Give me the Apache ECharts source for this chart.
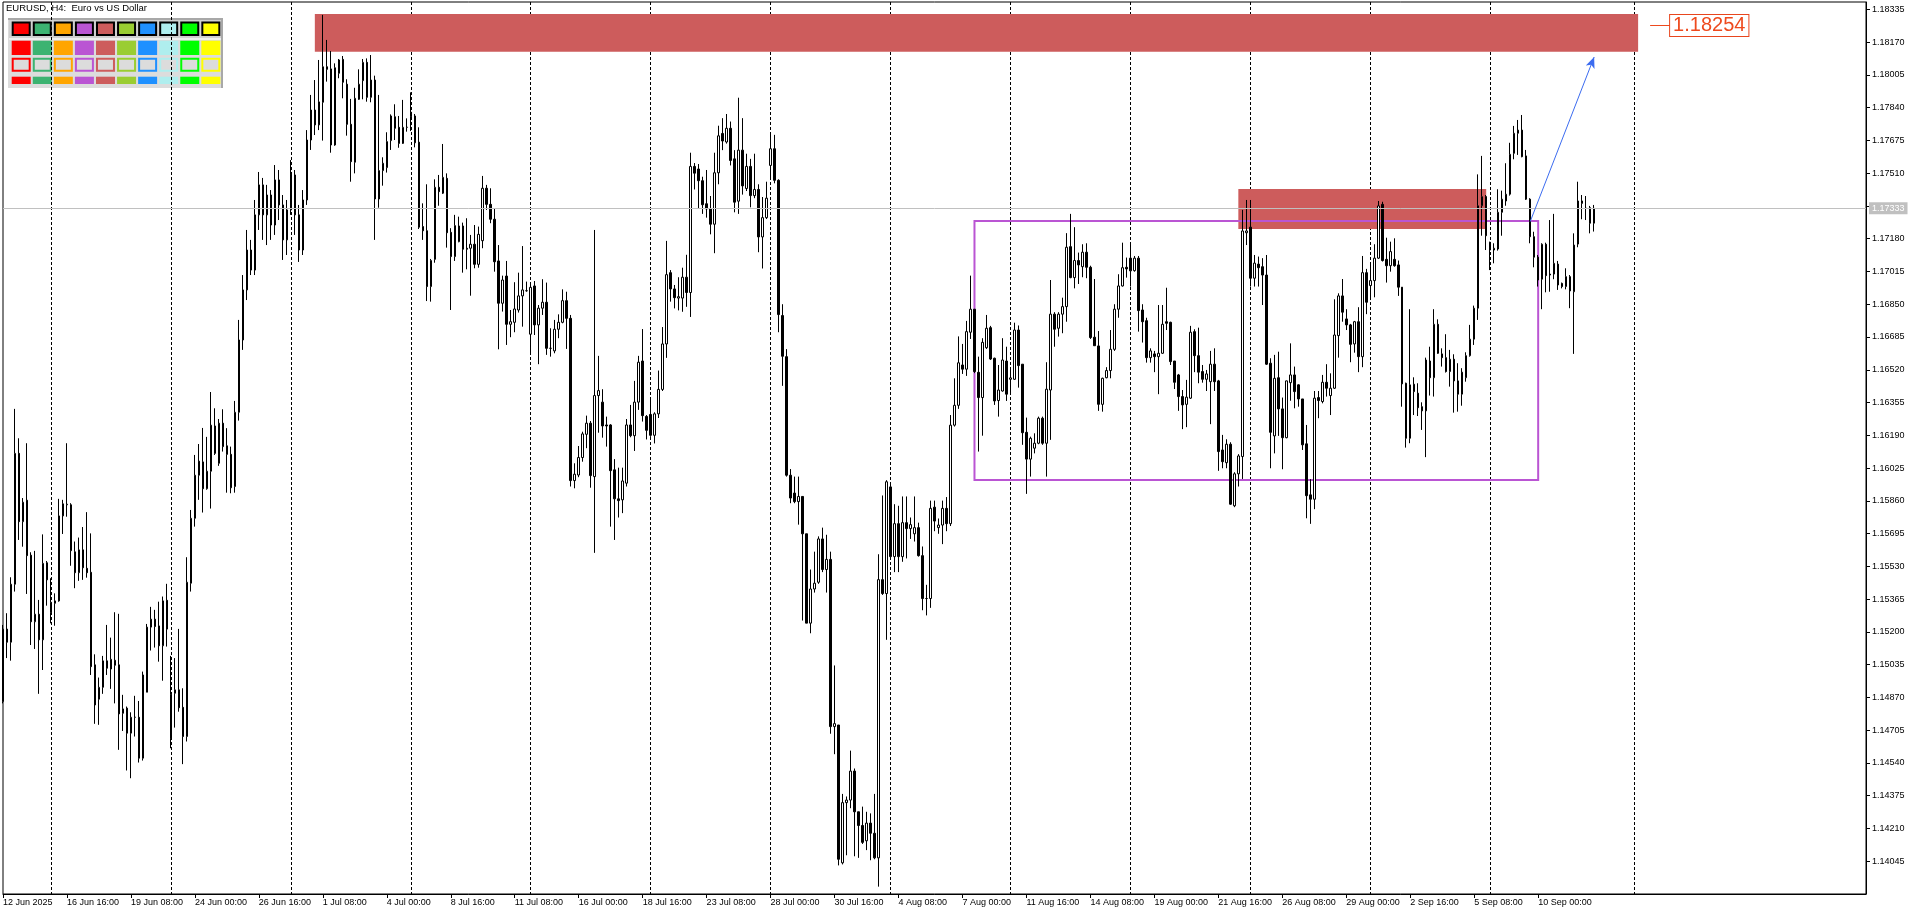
<!DOCTYPE html>
<html><head><meta charset="utf-8">
<script src="https://cdn.jsdelivr.net/npm/echarts@6/dist/echarts.min.js"></script>
<style>html,body{margin:0;padding:0;background:#fff;overflow:hidden}#c{width:1920px;height:915px}</style>
</head><body><div id="c"></div>
<script>
// ---------------- DATA (EURUSD H4) ----------------
const opens = [
1.14849,1.15214,1.15148,1.15440,1.16099,1.15755,1.15863,1.15586,1.15251,1.15289,
1.15160,1.15548,1.15299,1.15344,1.15356,1.15784,1.15840,1.15840,1.15603,1.15498,
1.15613,1.15520,1.15500,1.15034,1.14861,1.14921,1.15054,1.15013,1.15057,1.15034,
1.14790,1.14816,1.14690,1.14770,1.14770,1.14564,1.14896,1.15224,1.15264,1.15230,
1.15130,1.15359,1.14665,1.14891,1.14908,1.14820,1.14673,1.15445,1.15772,1.15989,
1.16056,1.15921,1.16009,1.16237,1.16049,1.16251,1.16137,1.16094,1.15932,1.16306,
1.16670,1.16922,1.17123,1.17022,1.17300,1.17451,1.17300,1.17400,1.17249,1.17476,
1.17350,1.17174,1.17325,1.17501,1.17300,1.17123,1.17375,1.17677,1.17828,1.17753,
1.17867,1.18046,1.18035,1.17652,1.18013,1.18083,1.17958,1.17756,1.17565,1.17882,
1.17976,1.18068,1.17892,1.17979,1.17380,1.17523,1.17538,1.17674,1.17794,1.17741,
1.17660,1.17741,1.17817,1.17798,1.17666,1.17241,1.17220,1.16939,1.17076,1.17439,
1.17409,1.17484,1.17212,1.17090,1.17165,1.17244,1.17132,1.17132,1.17152,1.17051,
1.17170,1.17434,1.17353,1.17278,1.17068,1.16855,1.16992,1.16749,1.16759,1.16821,
1.16892,1.16918,1.16699,1.16942,1.16746,1.16830,1.16860,1.16628,1.16615,1.16724,
1.16759,1.16868,1.16779,1.15962,1.15990,1.16078,1.16195,1.16251,1.15982,1.16390,
1.16357,1.16242,1.16242,1.16016,1.15870,1.15865,1.15949,1.16242,1.16188,1.16357,
1.16564,1.16285,1.16295,1.16190,1.16298,1.16421,1.16650,1.17009,1.16927,1.16881,
1.16881,1.16986,1.16909,1.17544,1.17531,1.17472,1.17356,1.17330,1.17253,1.17512,
1.17710,1.17667,1.17736,1.17582,1.17369,1.17626,1.17433,1.17544,1.17397,1.17428,
1.17189,1.17286,1.17549,1.17633,1.17474,1.16793,1.16586,1.15989,1.15899,1.15856,
1.15882,1.15694,1.15244,1.15416,1.15450,1.15668,1.15514,1.15565,1.14723,1.14731,
1.14037,1.14340,1.14353,1.14499,1.14294,1.14225,1.14148,1.14237,1.14186,1.14062,
1.15463,1.15393,1.15930,1.15579,1.15745,1.15579,1.15750,1.15720,1.15694,1.15725,
1.15584,1.15368,1.15368,1.15828,1.15725,1.15738,1.15822,1.15745,1.16241,1.16341,
1.16544,1.16523,1.16709,1.16825,1.16507,1.16380,1.16631,1.16732,1.16578,1.16365,
1.16413,1.16564,1.16472,1.16472,1.16720,1.16548,1.16205,1.16070,1.16125,1.16150,
1.16276,1.16150,1.16418,1.16800,1.16729,1.16800,1.16838,1.17140,1.16984,1.17070,
1.17039,1.17112,1.17036,1.16684,1.16640,1.16346,1.16480,1.16516,1.16623,1.16825,
1.16942,1.17036,1.17082,1.17019,1.17082,1.16821,1.16767,1.16581,1.16600,1.16586,
1.16603,1.16762,1.16759,1.16564,1.16494,1.16385,1.16346,1.16377,1.16712,1.16591,
1.16511,1.16472,1.16460,1.16548,1.16464,1.16116,1.16052,1.16145,1.15835,1.15996,
1.16083,1.17210,1.17238,1.16981,1.17052,1.17039,1.16997,1.16553,1.16187,1.16480,
1.16323,1.16178,1.16455,1.16494,1.16444,1.16373,1.16147,1.15890,1.15868,1.16380,
1.16360,1.16457,1.16390,1.16427,1.16692,1.16892,1.16776,1.16746,1.16650,1.16762,
1.16586,1.17009,1.16944,1.16969,1.17082,1.17353,1.17076,1.17044,1.17076,1.17048,
1.16936,1.16452,1.16175,1.16447,1.16402,1.16334,1.16313,1.16564,1.16480,1.16749,
1.16600,1.16581,1.16511,1.16573,1.16464,1.16397,1.16480,1.16591,1.16674,1.16830,
1.17346,1.17392,1.17162,1.17123,1.17128,1.17313,1.17370,1.17404,1.17610,1.17711,
1.17727,1.17597,1.17379,1.17190,1.17087,1.16976,1.17152,1.17002,1.17002,1.17052,
1.16955,1.16939,1.16989,1.16913,1.17153,1.17370,1.17333,1.17336,1.17258
];
const highs = [
1.15235,1.15294,1.15475,1.16323,1.16175,1.15874,1.16150,1.15601,1.15608,1.15361,
1.15691,1.15557,1.15470,1.15394,1.15870,1.15865,1.16150,1.15848,1.15655,1.15675,
1.15728,1.15803,1.15696,1.15087,1.14970,1.15079,1.15235,1.15171,1.15299,1.15291,
1.14883,1.14824,1.14795,1.14878,1.14852,1.15000,1.15240,1.15326,1.15311,1.15352,
1.15378,1.15442,1.15079,1.15068,1.15215,1.14916,1.15576,1.15814,1.16091,1.16146,
1.16227,1.16182,1.16408,1.16326,1.16272,1.16321,1.16226,1.16133,1.16363,1.16771,
1.16997,1.17224,1.17174,1.17375,1.17516,1.17486,1.17451,1.17425,1.17551,1.17526,
1.17400,1.17375,1.17576,1.17526,1.17350,1.17425,1.17727,1.17904,1.17979,1.18080,
1.18307,1.18181,1.18125,1.18063,1.18085,1.18100,1.17983,1.17884,1.17940,1.18033,
1.18085,1.18088,1.18105,1.18001,1.17904,1.17590,1.17716,1.17806,1.17857,1.17798,
1.17879,1.17786,1.17917,1.17808,1.17741,1.17358,1.17454,1.17078,1.17479,1.17501,
1.17657,1.17509,1.17233,1.17300,1.17291,1.17261,1.17283,1.17199,1.17249,1.17241,
1.17496,1.17451,1.17434,1.17333,1.17148,1.16994,1.17068,1.16821,1.16961,1.17009,
1.17143,1.16964,1.16956,1.16967,1.16846,1.16976,1.16959,1.16729,1.16771,1.16799,
1.16925,1.16913,1.16796,1.16049,1.16136,1.16208,1.16289,1.16262,1.17224,1.16590,
1.16422,1.16284,1.16246,1.16070,1.16027,1.16027,1.16272,1.16343,1.16464,1.16590,
1.16725,1.16292,1.16375,1.16306,1.16516,1.16735,1.17169,1.17022,1.16947,1.16986,
1.17034,1.17099,1.17613,1.17561,1.17556,1.17492,1.17526,1.17395,1.17613,1.17749,
1.17787,1.17808,1.17770,1.17626,1.17890,1.17787,1.17608,1.17582,1.17608,1.17454,
1.17390,1.17467,1.17703,1.17703,1.17479,1.16850,1.16624,1.16020,1.15982,1.15982,
1.15882,1.15694,1.15514,1.15604,1.15681,1.15725,1.15689,1.15604,1.15031,1.14731,
1.14384,1.14371,1.14602,1.14512,1.14294,1.14320,1.14294,1.14286,1.14384,1.15591,
1.15887,1.15964,1.15951,1.15843,1.15835,1.15882,1.15882,1.15776,1.15882,1.15750,
1.15630,1.15437,1.15861,1.15861,1.15771,1.15861,1.15879,1.16292,1.16477,1.16688,
1.16650,1.16766,1.16994,1.16826,1.16586,1.16679,1.16796,1.16741,1.16581,1.16544,
1.16679,1.16636,1.16528,1.16757,1.16743,1.16548,1.16279,1.16183,1.16200,1.16284,
1.16284,1.16558,1.16972,1.16810,1.16810,1.16883,1.17208,1.17305,1.17238,1.17110,
1.17152,1.17157,1.17044,1.16977,1.16715,1.16480,1.16533,1.16720,1.16850,1.17001,
1.17160,1.17085,1.17160,1.17093,1.17093,1.16850,1.16782,1.16628,1.16615,1.16846,
1.16846,1.16933,1.16762,1.16564,1.16499,1.16418,1.16469,1.16741,1.16724,1.16732,
1.16544,1.16519,1.16615,1.16628,1.16469,1.16192,1.16170,1.16155,1.16004,1.16095,
1.17325,1.17375,1.17375,1.17098,1.17090,1.17082,1.17098,1.16578,1.16595,1.16611,
1.16380,1.16465,1.16653,1.16536,1.16447,1.16373,1.16242,1.15969,1.16413,1.16413,
1.16494,1.16548,1.16502,1.16875,1.16905,1.16977,1.16825,1.16751,1.16766,1.16835,
1.17093,1.17028,1.17056,1.17152,1.17370,1.17366,1.17185,1.17165,1.17182,1.17070,
1.16936,1.16455,1.16825,1.16482,1.16452,1.16356,1.16581,1.16636,1.16825,1.16774,
1.16628,1.16699,1.16620,1.16598,1.16553,1.16528,1.16608,1.16746,1.16843,1.17504,
1.17597,1.17400,1.17165,1.17157,1.17429,1.17422,1.17560,1.17663,1.17748,1.17778,
1.17803,1.17627,1.17384,1.17215,1.17098,1.17157,1.17160,1.17274,1.17305,1.17068,
1.16959,1.17031,1.16997,1.17207,1.17467,1.17400,1.17395,1.17345,1.17350
];
const lows = [
1.14840,1.15068,1.15055,1.15403,1.15663,1.15629,1.15391,1.15134,1.15114,1.14888,
1.15008,1.15332,1.15243,1.15231,1.15352,1.15693,1.15780,1.15533,1.15420,1.15457,
1.15462,1.15473,1.14983,1.14737,1.14732,1.14888,1.14983,1.14913,1.14840,1.14606,
1.14701,1.14502,1.14463,1.14673,1.14542,1.14552,1.14896,1.15106,1.15121,1.15050,
1.14954,1.15126,1.14614,1.14718,1.14798,1.14534,1.14648,1.15403,1.15730,1.15865,
1.15801,1.15916,1.15821,1.16091,1.16036,1.16108,1.15901,1.15898,1.15901,1.16264,
1.16620,1.16871,1.16997,1.16997,1.17224,1.17174,1.17148,1.17174,1.17199,1.17274,
1.17073,1.17098,1.17300,1.17199,1.17063,1.17098,1.17350,1.17627,1.17702,1.17727,
1.17674,1.17971,1.17613,1.17648,1.17988,1.17887,1.17699,1.17467,1.17509,1.17879,
1.17882,1.17870,1.17867,1.17174,1.17336,1.17447,1.17513,1.17627,1.17677,1.17638,
1.17657,1.17719,1.17722,1.17640,1.17229,1.17174,1.16866,1.16863,1.17059,1.17346,
1.17405,1.17135,1.16821,1.17068,1.17162,1.17009,1.17026,1.16893,1.17031,1.17034,
1.17132,1.17325,1.17258,1.17014,1.16623,1.16813,1.16645,1.16684,1.16709,1.16808,
1.16737,1.16913,1.16603,1.16695,1.16548,1.16796,1.16595,1.16586,1.16603,1.16679,
1.16754,1.16625,1.15932,1.15923,1.15979,1.16057,1.16125,1.15926,1.15598,1.16203,
1.16178,1.16133,1.15730,1.15663,1.15776,1.15798,1.15932,1.16180,1.16111,1.16318,
1.16259,1.16169,1.16182,1.16149,1.16277,1.16413,1.16580,1.16863,1.16829,1.16819,
1.16812,1.16837,1.16786,1.17428,1.17333,1.17305,1.17286,1.17202,1.17107,1.17454,
1.17626,1.17659,1.17549,1.17313,1.17305,1.17402,1.17420,1.17338,1.17384,1.17112,
1.17030,1.17279,1.17479,1.17459,1.16709,1.16439,1.15982,1.15848,1.15848,1.15740,
1.15257,1.15244,1.15193,1.15398,1.15442,1.15501,1.15398,1.14687,1.14584,1.14024,
1.14029,1.14075,1.14312,1.14070,1.14062,1.14132,1.14101,1.14050,1.14055,1.13917,
1.15386,1.15160,1.15565,1.15501,1.15501,1.15553,1.15570,1.15668,1.15655,1.15579,
1.15309,1.15283,1.15321,1.15707,1.15694,1.15642,1.15707,1.15733,1.16234,1.16323,
1.16499,1.16489,1.16675,1.16503,1.16108,1.16188,1.16625,1.16569,1.16343,1.16284,
1.16410,1.16363,1.16393,1.16469,1.16430,1.16142,1.15895,1.15982,1.16099,1.16145,
1.16142,1.15982,1.16167,1.16636,1.16687,1.16704,1.16762,1.16981,1.16930,1.16952,
1.16986,1.16981,1.16675,1.16641,1.16313,1.16309,1.16477,1.16477,1.16615,1.16782,
1.16939,1.16984,1.16939,1.17014,1.16712,1.16657,1.16556,1.16556,1.16508,1.16397,
1.16600,1.16720,1.16544,1.16423,1.16313,1.16221,1.16231,1.16373,1.16508,1.16452,
1.16455,1.16413,1.16246,1.16413,1.16011,1.16024,1.16024,1.15840,1.15828,1.15932,
1.15970,1.17148,1.16939,1.16939,1.16939,1.16846,1.16544,1.16024,1.16099,1.16187,
1.16019,1.16175,1.16364,1.16326,1.16334,1.16116,1.15772,1.15744,1.15818,1.16276,
1.16351,1.16385,1.16292,1.16423,1.16581,1.16762,1.16720,1.16558,1.16606,1.16508,
1.16533,1.16800,1.16871,1.16885,1.17078,1.17065,1.16959,1.17014,1.17039,1.16892,
1.16334,1.16128,1.16150,1.16292,1.16287,1.16217,1.16080,1.16390,1.16385,1.16600,
1.16536,1.16506,1.16435,1.16304,1.16309,1.16339,1.16460,1.16586,1.16645,1.16771,
1.17195,1.17123,1.17022,1.17056,1.17120,1.17195,1.17346,1.17397,1.17580,1.17602,
1.17590,1.17375,1.17157,1.17036,1.16939,1.16825,1.16910,1.16913,1.16976,1.16922,
1.16930,1.16925,1.16830,1.16600,1.17137,1.17278,1.17274,1.17207,1.17216
];
const closes = [
1.15214,1.15148,1.15440,1.16099,1.15755,1.15853,1.15584,1.15251,1.15289,1.15160,
1.15545,1.15462,1.15349,1.15356,1.15784,1.15845,1.15843,1.15609,1.15498,1.15613,
1.15523,1.15498,1.15025,1.14832,1.14921,1.15054,1.15017,1.15062,1.15032,1.14787,
1.14812,1.14690,1.14770,1.14770,1.14564,1.14983,1.15224,1.15264,1.15227,1.15130,
1.15356,1.15214,1.14886,1.14908,1.14818,1.14673,1.15450,1.15772,1.15989,1.16060,
1.15921,1.16009,1.16241,1.16099,1.16251,1.16133,1.16094,1.15926,1.16306,1.16670,
1.16922,1.17123,1.17022,1.17300,1.17451,1.17300,1.17400,1.17249,1.17476,1.17350,
1.17174,1.17325,1.17501,1.17300,1.17123,1.17375,1.17677,1.17828,1.17753,1.17869,
1.18046,1.18033,1.17652,1.18041,1.18080,1.17968,1.17756,1.17568,1.17887,1.17958,
1.18068,1.17892,1.17979,1.17380,1.17523,1.17560,1.17669,1.17798,1.17736,1.17660,
1.17741,1.17741,1.17794,1.17663,1.17238,1.17220,1.16939,1.17070,1.17439,1.17417,
1.17489,1.17210,1.17090,1.17246,1.17244,1.17127,1.17127,1.17152,1.17051,1.17202,
1.17434,1.17353,1.17278,1.17064,1.16855,1.16972,1.16749,1.16762,1.16826,1.16892,
1.16922,1.16918,1.16935,1.16746,1.16830,1.16860,1.16628,1.16628,1.16724,1.16759,
1.16868,1.16779,1.15962,1.15994,1.16078,1.16197,1.16251,1.15987,1.16390,1.16415,
1.16237,1.16237,1.16012,1.15870,1.15861,1.15960,1.16242,1.16188,1.16357,1.16558,
1.16289,1.16215,1.16190,1.16298,1.16421,1.16650,1.16999,1.16927,1.16883,1.16888,
1.16986,1.16909,1.17544,1.17510,1.17472,1.17351,1.17330,1.17253,1.17512,1.17698,
1.17672,1.17736,1.17574,1.17364,1.17626,1.17446,1.17544,1.17397,1.17428,1.17189,
1.17286,1.17384,1.17633,1.17474,1.16798,1.16588,1.15989,1.15874,1.15856,1.15882,
1.15694,1.15244,1.15416,1.15445,1.15668,1.15514,1.15565,1.14723,1.14738,1.14055,
1.14340,1.14353,1.14499,1.14294,1.14225,1.14140,1.14237,1.14186,1.14062,1.15463,
1.15393,1.15956,1.15579,1.15745,1.15579,1.15750,1.15720,1.15740,1.15725,1.15584,
1.15368,1.15368,1.15822,1.15758,1.15738,1.15822,1.15745,1.16241,1.16341,1.16555,
1.16523,1.16712,1.16825,1.16511,1.16380,1.16658,1.16729,1.16574,1.16363,1.16418,
1.16569,1.16397,1.16479,1.16720,1.16541,1.16203,1.16070,1.16175,1.16150,1.16276,
1.16150,1.16422,1.16800,1.16724,1.16800,1.16838,1.17137,1.16984,1.17070,1.17048,
1.17112,1.17036,1.16682,1.16641,1.16346,1.16477,1.16516,1.16623,1.16825,1.16942,
1.17034,1.17028,1.17018,1.17082,1.16818,1.16762,1.16581,1.16615,1.16586,1.16603,
1.16749,1.16754,1.16561,1.16457,1.16385,1.16343,1.16382,1.16709,1.16591,1.16508,
1.16472,1.16499,1.16548,1.16460,1.16108,1.16057,1.16145,1.15843,1.15996,1.16086,
1.17219,1.17219,1.16981,1.17057,1.17034,1.16997,1.16548,1.16205,1.16477,1.16323,
1.16178,1.16464,1.16494,1.16410,1.16373,1.16142,1.15886,1.15868,1.16377,1.16365,
1.16457,1.16427,1.16427,1.16695,1.16892,1.16810,1.16746,1.16648,1.16762,1.16586,
1.17009,1.16860,1.16969,1.17082,1.17345,1.17070,1.17044,1.17115,1.17044,1.16936,
1.16449,1.16175,1.16444,1.16410,1.16329,1.16313,1.16569,1.16480,1.16749,1.16603,
1.16581,1.16511,1.16573,1.16464,1.16397,1.16508,1.16591,1.16674,1.16830,1.17346,
1.17392,1.17195,1.17123,1.17132,1.17313,1.17379,1.17404,1.17605,1.17711,1.17727,
1.17593,1.17379,1.17190,1.17087,1.16972,1.17152,1.16994,1.16997,1.17056,1.16947,
1.16939,1.16989,1.16917,1.17148,1.17370,1.17358,1.17333,1.17258,1.17333
];
const xTickLabels = ['12 Jun 2025','16 Jun 16:00','19 Jun 08:00','24 Jun 00:00','26 Jun 16:00','1 Jul 08:00','4 Jul 00:00','8 Jul 16:00','11 Jul 08:00','16 Jul 00:00','18 Jul 16:00','23 Jul 08:00','28 Jul 00:00','30 Jul 16:00','4 Aug 08:00','7 Aug 00:00','11 Aug 16:00','14 Aug 08:00','19 Aug 00:00','21 Aug 16:00','26 Aug 08:00','29 Aug 00:00','2 Sep 16:00','5 Sep 08:00','10 Sep 00:00'];
const barsPerXLabel = 16;
const weekStartBars = [12,42,72,102,132,162,192,222,252,282,312,342,372,408];
const totalSlots = 467;
const yMin = 1.13880, yMax = 1.18372, yStep = 0.00165;
const currentPrice = 1.17333;
const hiddenTick = 1.17345;
const targetPrice = 1.18254;
const targetLabelBars = [412, 417];
// zones: [fromBar, toBar, topPrice, bottomPrice]
const supplyZones = [[78, 409, 1.18312, 1.18122], [309, 371, 1.17430, 1.17229]];
const rangeBox = [243, 384, 1.17269, 1.15965];
const arrowFrom = [382, 1.17266];
const arrowTo = [398, 1.18095];
const chartTitle = 'EURUSD, H4:  Euro vs US Dollar';
const paletteColors = ['#FF0000','#3CB371','#FFA500','#BA55D3','#CD5C5C','#9ACD32','#1E90FF','#AFEEEE','#00FF00','#FFFF00'];

// ---------------- CHART ----------------
const FONT = '"Liberation Sans", Arial, sans-serif';
const cats = Array.from({length: totalSlots}, (_, i) => String(i));
const candleData = opens.map((o, i) => [o, closes[i], lows[i], highs[i]]);
const isLabelIdx = i => i % barsPerXLabel === 0 && (i / barsPerXLabel) < xTickLabels.length;

const gfx = [];
gfx.push({type:'text', silent:true, z:0, style:{text: chartTitle, x:6, y:3.5, fill:'#000', font:'9.5px ' + FONT, align:'left', verticalAlign:'top'}});
gfx.push({type:'rect', silent:true, z:0, shape:{x:8, y:18, width:215, height:70}, style:{fill:'#DCDCDC'}});
gfx.push({type:'rect', silent:true, z:0, shape:{x:8, y:18, width:215, height:2}, style:{fill:'#A8A8A8'}});
gfx.push({type:'rect', silent:true, z:0, shape:{x:221, y:18, width:2, height:70}, style:{fill:'#A8A8A8'}});
gfx.push({type:'rect', silent:true, z:0, shape:{x:9, y:20, width:212, height:18}, style:{fill:'#D0D0D0'}});
gfx.push({type:'rect', silent:true, z:0, shape:{x:9, y:38.5, width:212, height:1}, style:{fill:'#FFFFFF'}});
paletteColors.forEach((c, k) => {
  const x0 = 11.7 + 21.07 * k;
  gfx.push({type:'rect', silent:true, z:0, shape:{x:x0 + 1, y:22.5, width:17, height:12.5}, style:{fill:c, stroke:'#000', lineWidth:2}});
  gfx.push({type:'rect', silent:true, z:0, shape:{x:x0, y:40.7, width:19, height:14.3}, style:{fill:c}});
  gfx.push({type:'rect', silent:true, z:0, shape:{x:x0 + 1, y:58.7, width:17, height:12}, style:{fill:'#DCDCDC', stroke:c, lineWidth:2}});
  gfx.push({type:'rect', silent:true, z:0, shape:{x:x0, y:76.7, width:19, height:7.3}, style:{fill:c}});
});

const chart = echarts.init(document.getElementById('c'), null, {renderer:'canvas'});
chart.setOption({
  animation: false,
  backgroundColor: '#ffffff',
  graphic: {elements: gfx},
  grid: {left: 2, top: 2, width: 1864, height: 892, show: true, borderColor: '#000', borderWidth: 1, backgroundColor: 'transparent'},
  xAxis: {
    type: 'category', data: cats, boundaryGap: false, z: 1,
    axisLine: {show: true, lineStyle: {color: '#000', width: 1}},
    axisTick: {show: true, interval: (i) => isLabelIdx(i), length: 4, lineStyle: {color: '#000'}},
    axisLabel: {
      interval: (i) => isLabelIdx(i),
      formatter: (v) => { const i = +v; return isLabelIdx(i) ? xTickLabels[i / barsPerXLabel] : ''; },
      align: 'left', margin: 4, fontSize: 9, fontFamily: FONT, color: '#000'
    },
    splitLine: {show: true, interval: (i) => weekStartBars.includes(i), lineStyle: {color: '#000', width: 1, type: [3, 2]}}
  },
  yAxis: {
    type: 'value', position: 'right', min: yMin, max: yMax, interval: yStep, z: 1,
    axisLine: {show: true, lineStyle: {color: '#000', width: 1}},
    axisTick: {show: true, length: 4, lineStyle: {color: '#000'}},
    splitLine: {show: false},
    axisLabel: {
      showMinLabel: false, showMaxLabel: false, margin: 6, fontSize: 9, fontFamily: FONT, color: '#000',
      formatter: (v) => Math.abs(v - hiddenTick) < 1e-7 ? '' : v.toFixed(5)
    }
  },
  series: [
    {
      type: 'line', data: [], z: 0, silent: true,
      markArea: {silent: true, data: supplyZones.map(z => [
        {coord: [z[0], z[2]], itemStyle: {color: '#CD5C5C', opacity: 1}},
        {coord: [z[1], z[3]]}
      ])}
    },
    {
      type: 'candlestick', data: candleData, barWidth: 2, z: 2, silent: true,
      itemStyle: {color: '#ffffff', color0: '#000000', borderColor: '#000000', borderColor0: '#000000', borderColorDoji: '#000000', borderWidth: 1},
      markLine: {
        silent: true, symbol: ['none', 'none'], animation: false,
        data: [
          [{coord: [0, currentPrice], symbol: 'none'},
           {coord: [totalSlots - 1, currentPrice], symbol: 'none', lineStyle: {color: '#C0C0C0', width: 1, type: 'solid'},
            label: {show: true, position: 'end', formatter: currentPrice.toFixed(5), color: '#ffffff', backgroundColor: '#C0C0C0', fontSize: 9, fontFamily: FONT, padding: [2, 3, 1, 3], distance: 3}}],
          [{coord: arrowFrom, symbol: 'none'},
           {coord: arrowTo, symbol: 'arrow', symbolSize: [7, 11], lineStyle: {color: '#3C6CF0', width: 1, type: 'solid'}, label: {show: false}}],
          [{coord: [targetLabelBars[0], targetPrice], symbol: 'none'},
           {coord: [targetLabelBars[1], targetPrice], symbol: 'none', lineStyle: {color: '#EE4A1E', width: 1, type: 'solid'},
            label: {show: true, position: 'end', distance: 0, formatter: targetPrice.toFixed(5), color: '#EE4A1E', fontSize: 20, fontFamily: FONT,
                    backgroundColor: '#ffffff', borderColor: '#E8461E', borderWidth: 1, padding: [1, 3, 0, 3]}}]
        ]
      }
    },
    {
      type: 'line', data: [], z: 3, silent: true,
      markArea: {silent: true, data: [[
        {coord: [rangeBox[0], rangeBox[2]], itemStyle: {color: 'rgba(0,0,0,0)', borderColor: '#BA55D3', borderWidth: 2}},
        {coord: [rangeBox[1], rangeBox[3]]}
      ]]}
    }
  ]
});
</script>
</body></html>
